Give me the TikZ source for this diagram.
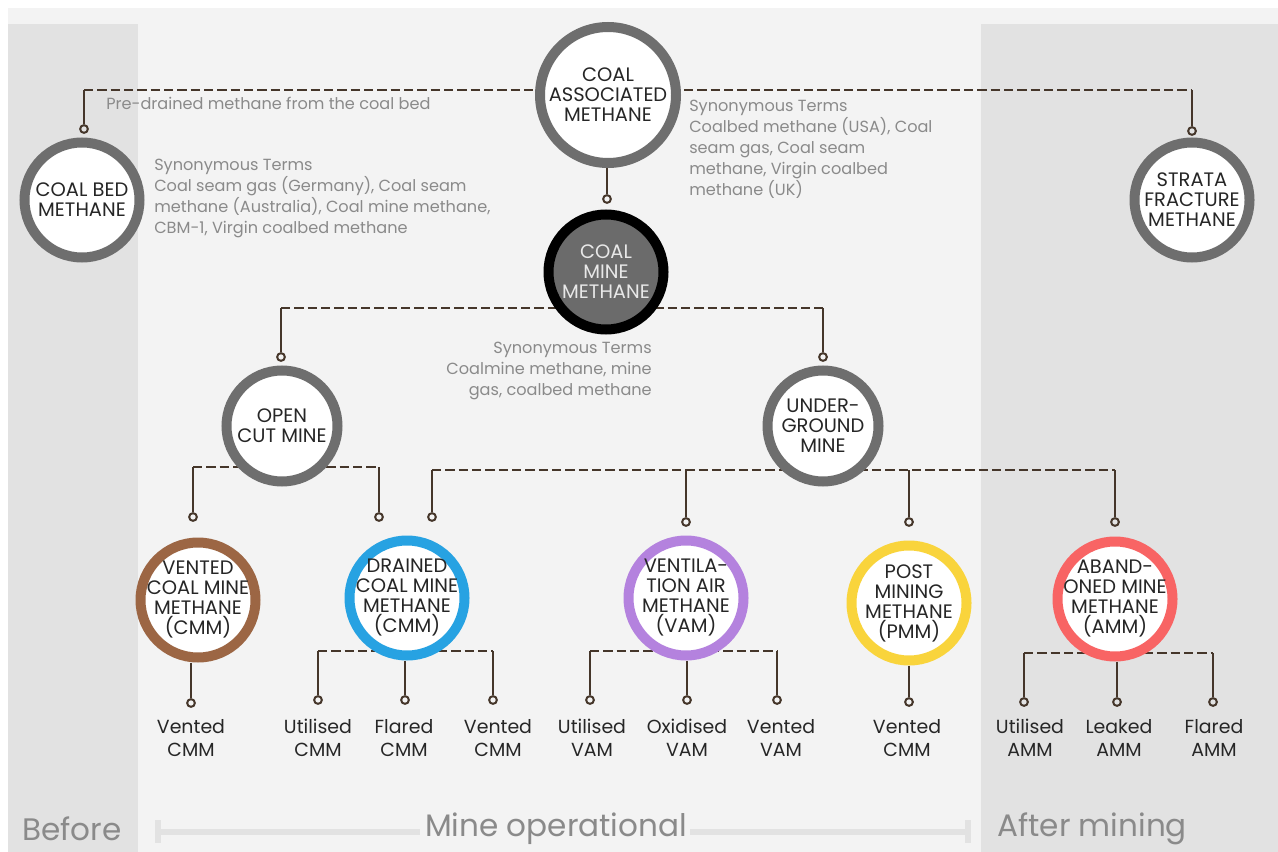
\documentclass[tikz,border=0pt]{standalone}
\usepackage{fontspec}
\setmainfont{Poppins}
\usetikzlibrary{backgrounds}
\definecolor{panel}{HTML}{F3F3F3}
\definecolor{band}{HTML}{E2E2E2}
\definecolor{ringgray}{HTML}{6E6E6E}
\definecolor{linebrown}{HTML}{45362A}
\definecolor{graytext}{HTML}{8A8A8A}
\definecolor{labeltext}{HTML}{262626}
\definecolor{cmmfill}{HTML}{6B6B6B}
\definecolor{cmmtext}{HTML}{E8E8E8}
\definecolor{brownring}{HTML}{9C6644}
\definecolor{bluering}{HTML}{27A2E2}
\definecolor{purplering}{HTML}{B482DE}
\definecolor{yellowring}{HTML}{F9D43C}
\definecolor{redring}{HTML}{F86464}
\definecolor{timeline}{HTML}{E2E2E2}
\newcommand\circfont{\fontsize{14.6}{15}\selectfont}
\newcommand\smallfont{\fontsize{12.1}{15.75}\selectfont}
\newcommand\leaffont{\fontsize{14.2}{17.25}\selectfont}
\newcommand\bigfont{\fontsize{23.3}{26}\selectfont}
\tikzset{
  ring/.style={circle, draw=ringgray, line width=7.5pt, fill=white, inner sep=-35pt,
    align=center, font=\circfont, text=labeltext, minimum size=86.25pt},
  dotnode/.style={circle, draw=linebrown, line width=1.5pt, fill=none, inner sep=0pt, minimum size=5.8pt},
  sline/.style={draw=linebrown, line width=2pt},
  dline/.style={draw=linebrown, line width=2pt, dash pattern=on 7pt off 3pt},
  graynote/.style={font=\smallfont, text=graytext, inner sep=0pt},
  leaf/.style={font=\leaffont, text=labeltext, align=center, inner sep=0pt},
  phase/.style={font=\bigfont, text=graytext, inner sep=0pt},
  tl/.style={draw=timeline, line width=3.8pt}
}
\begin{document}
\begin{tikzpicture}[x=0.75pt,y=-0.75pt]
\useasboundingbox (0,0) rectangle (1278,852);
% ---------- nodes ----------
\node[ring, minimum size=102pt] (cam) at (608,95) {COAL\\ASSOCIATED\\METHANE};
\node[ring] (cbm) at (82,200) {COAL BED\\METHANE};
\node[ring] (sfm) at (1192,200) {STRATA\\FRACTURE\\METHANE};
\node[ring, draw=black, fill=cmmfill, text=cmmtext] (cmm) at (606,272) {COAL\\MINE\\METHANE};
\node[ring, minimum size=83.25pt] (ocm) at (282,426) {OPEN\\CUT MINE};
\node[ring, minimum size=83.25pt] (ug) at (823,426) {UNDER-\\GROUND\\MINE};
\node[ring, draw=brownring] (vcmm) at (198,600) {VENTED\\COAL MINE\\METHANE\\(CMM)};
\node[ring, draw=bluering] (dcmm) at (407,598) {DRAINED\\COAL MINE\\METHANE\\(CMM)};
\node[ring, draw=purplering] (vam) at (686,598) {VENTILA-\\TION AIR\\METHANE\\(VAM)};
\node[ring, draw=yellowring] (pmm) at (909,603) {POST\\MINING\\METHANE\\(PMM)};
\node[ring, draw=redring] (amm) at (1115,599) {ABAND-\\ONED MINE\\METHANE\\(AMM)};
% dots
\node[dotnode] (d-cbm) at (84,129) {};
\node[dotnode] (d-sfm) at (1192,131) {};
\node[dotnode] (d-cmm) at (607,199) {};
\node[dotnode] (d-ocm) at (281,357) {};
\node[dotnode] (d-ug) at (823,357) {};
\node[dotnode] (d-vcmm) at (193,517) {};
\node[dotnode] (d-dcmm1) at (379,517) {};
\node[dotnode] (d-dcmm2) at (432,517) {};
\node[dotnode] (d-vam) at (686,522) {};
\node[dotnode] (d-pmm) at (909,522) {};
\node[dotnode] (d-amm) at (1115,522) {};
\node[dotnode] (l1) at (191,703) {};
\node[dotnode] (l2) at (318,700) {};
\node[dotnode] (l3) at (405,700) {};
\node[dotnode] (l4) at (493,700) {};
\node[dotnode] (l5) at (590,700) {};
\node[dotnode] (l6) at (687,700) {};
\node[dotnode] (l7) at (777,700) {};
\node[dotnode] (l8) at (909,702) {};
\node[dotnode] (l9) at (1024,702) {};
\node[dotnode] (l10) at (1117,702) {};
\node[dotnode] (l11) at (1213,702) {};
% corners
\coordinate (k-cbm) at (84,90);
\coordinate (k-sfm) at (1192,90);
\coordinate (k-ocm) at (281,308);
\coordinate (k-ug) at (823,308);
\coordinate (k-vcmm) at (193,467);
\coordinate (k-dcmm1) at (379,467);
\coordinate (k-dcmm2) at (432,470);
\coordinate (k-vam) at (686,470);
\coordinate (k-pmm) at (909,470);
\coordinate (k-amm) at (1115,470);
\coordinate (b-l2) at (318,651);
\coordinate (b-l4) at (493,651);
\coordinate (b-l5) at (590,651);
\coordinate (b-l7) at (777,651);
\coordinate (b-l9) at (1024,653);
\coordinate (b-l11) at (1213,653);
% leaf labels
\node[leaf] (t1) at (191,738) {Vented\\CMM};
\node[leaf] (t2) at (318,738) {Utilised\\CMM};
\node[leaf] (t3) at (404,738) {Flared\\CMM};
\node[leaf] (t4) at (498,738) {Vented\\CMM};
\node[leaf] (t5) at (592,738) {Utilised\\VAM};
\node[leaf] (t6) at (687,738) {Oxidised\\VAM};
\node[leaf] (t7) at (781,738) {Vented\\VAM};
\node[leaf] (t8) at (907,738) {Vented\\CMM};
\node[leaf] (t9) at (1030,738) {Utilised\\AMM};
\node[leaf] (t10) at (1119,738) {Leaked\\AMM};
\node[leaf] (t11) at (1214,738) {Flared\\AMM};
% notes
\node[graynote, anchor=west] (n0) at (106,103) {Pre-drained methane from the coal bed};
\node[graynote, anchor=north west, align=left] (n1) at (154,159) {Synonymous Terms\\Coal seam gas (Germany), Coal seam\\methane (Australia), Coal mine methane,\\CBM-1, Virgin coalbed methane};
\node[graynote, anchor=north west, align=left] (n2) at (689,100) {Synonymous Terms\\Coalbed methane (USA), Coal\\seam gas, Coal seam\\methane, Virgin coalbed\\methane (UK)};
\node[graynote, anchor=north east, align=right] (n3) at (652,342) {Synonymous Terms\\Coalmine methane, mine\\gas, coalbed methane};
% phases
\node[phase, anchor=west] (p1) at (22,829) {Before};
\node[phase] (p2) at (556,829) {Mine operational};
\node[phase, anchor=west] (p3) at (997,829) {After mining};
\coordinate (tla) at (158,832);
\coordinate (tlb) at (968,832);
\begin{pgfonlayer}{background}
\fill[white] (0,0) rectangle (1278,852);
\fill[panel] (8,8) rectangle (1278,852);
\fill[band] (8,24) rectangle (138,852);
\fill[band] (981,24) rectangle (1278,852);
% timeline
\draw[tl] (tla) -- (420,832);
\draw[tl] (158,820) -- (158,843);
\draw[tl] (690,832) -- (tlb);
\draw[tl] (968,820) -- (968,843);
% connectors
\draw[dline] (k-cbm) -- (k-sfm);
\draw[sline] (k-cbm) -- (d-cbm.north);
\draw[sline] (k-sfm) -- (d-sfm.north);
\draw[sline] (d-cmm |- cam.south) -- (d-cmm.north);
\draw[dline] (k-ocm) -- (k-ug);
\draw[sline] (k-ocm) -- (d-ocm.north);
\draw[sline] (k-ug) -- (d-ug.north);
\draw[dline] (k-vcmm) -- (k-dcmm1);
\draw[sline] (k-vcmm) -- (d-vcmm.north);
\draw[sline] (k-dcmm1) -- (d-dcmm1.north);
\draw[dline] (k-dcmm2) -- (k-amm);
\draw[sline] (k-dcmm2) -- (d-dcmm2.north);
\draw[sline] (k-vam) -- (d-vam.north);
\draw[sline] (k-pmm) -- (d-pmm.north);
\draw[sline] (k-amm) -- (d-amm.north);
\draw[sline] (l1 |- vcmm.south) -- (l1.north);
\draw[dline] (b-l2) -- (b-l4);
\draw[sline] (b-l2) -- (l2.north);
\draw[sline] (l3 |- dcmm.south) -- (l3.north);
\draw[sline] (b-l4) -- (l4.north);
\draw[dline] (b-l5) -- (b-l7);
\draw[sline] (b-l5) -- (l5.north);
\draw[sline] (l6 |- vam.south) -- (l6.north);
\draw[sline] (b-l7) -- (l7.north);
\draw[sline] (l8 |- pmm.south) -- (l8.north);
\draw[dline] (b-l9) -- (b-l11);
\draw[sline] (b-l9) -- (l9.north);
\draw[sline] (l10 |- amm.south) -- (l10.north);
\draw[sline] (b-l11) -- (l11.north);
\end{pgfonlayer}
\end{tikzpicture}
\end{document}
